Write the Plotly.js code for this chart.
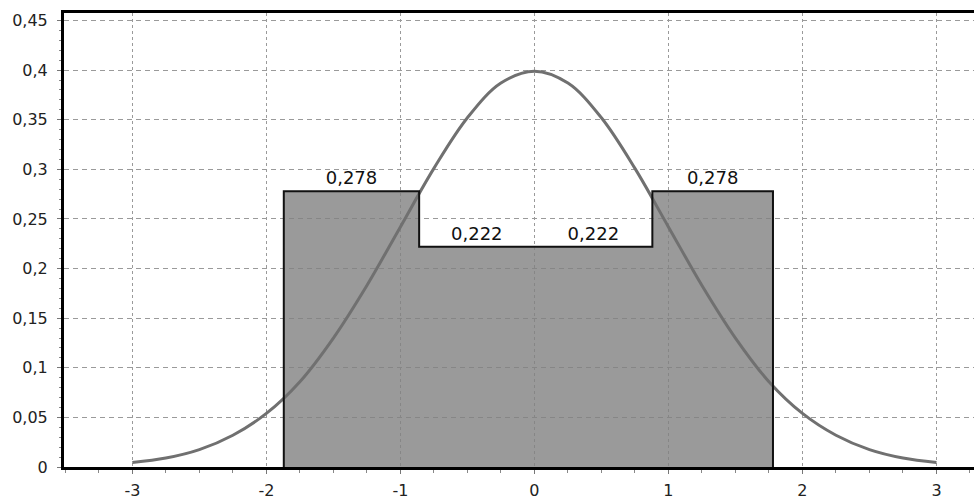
<!DOCTYPE html>
<html>
<head>
<meta charset="utf-8">
<script src="https://cdn.plot.ly/plotly-3.0.1.min.js"></script>
<style>html,body{margin:0;padding:0;background:#fff;}#chart{width:974px;height:500px;}</style>
</head>
<body>
<div id="chart"></div>
<script>
// Histogram bins (edges) and heights
var binEdges = [-1.87, -0.86, 0, 0.88, 1.78];
var binHeights = [0.278, 0.222, 0.222, 0.278];
// Density curve points
var curveX = [-3, -2.75, -2.5, -2.25, -2, -1.75, -1.5, -1.25, -1, -0.75, -0.5, -0.25, 0,
              0.25, 0.5, 0.75, 1, 1.25, 1.5, 1.75, 2, 2.25, 2.5, 2.75, 3];
var curveY = [0.0045, 0.009, 0.0175, 0.032, 0.054, 0.086, 0.13, 0.183, 0.242, 0.301, 0.352, 0.387, 0.399,
              0.387, 0.352, 0.301, 0.242, 0.183, 0.13, 0.086, 0.054, 0.032, 0.0175, 0.009, 0.0045];
var xTicks = [-3, -2, -1, 0, 1, 2, 3];

var centers = [], widths = [];
for (var i = 0; i < binHeights.length; i++) {
  centers.push((binEdges[i] + binEdges[i + 1]) / 2);
  widths.push(binEdges[i + 1] - binEdges[i]);
}
var outlineX = binEdges.concat([binEdges[binEdges.length - 1]]);
var outlineY = [0].concat(binHeights, [0]);

var curve = {
  type: 'scatter', mode: 'lines', x: curveX, y: curveY,
  line: {shape: 'spline', color: '#707070', width: 3}, hoverinfo: 'skip'
};
var bars = {
  type: 'bar', x: centers, y: binHeights, width: widths,
  marker: {color: 'rgba(129,129,129,0.8)', line: {width: 0}},
  text: binHeights, texttemplate: '%{y:.3f}', textposition: 'outside',
  textfont: {family: 'DejaVu Sans', size: 18, color: '#111'},
  cliponaxis: false, hoverinfo: 'skip'
};
var outline = {
  type: 'scatter', mode: 'lines', x: outlineX, y: outlineY,
  line: {shape: 'vh', color: '#111', width: 2}, hoverinfo: 'skip'
};

var layout = {
  width: 974, height: 500,
  margin: {l: 64, r: 0, t: 13, b: 33},
  paper_bgcolor: '#fff', plot_bgcolor: '#fff',
  separators: ', ',
  showlegend: false,
  bargap: 0,
  font: {family: 'DejaVu Sans', size: 16, color: '#222'},
  xaxis: {
    range: [-3.51, 3.28], tickvals: xTicks, ticktext: xTicks.map(String),
    showgrid: true, gridcolor: '#9a9a9a', gridwidth: 1, griddash: '3px,3px',
    zeroline: false, showline: true, linecolor: '#000', linewidth: 3, mirror: true,
    ticks: 'outside', ticklen: 4, tickcolor: '#777', ticklabelstandoff: 3,
    minor: {dtick: 0.25, ticks: 'outside', ticklen: 3, tickcolor: '#888', showgrid: false},
    tickfont: {family: 'DejaVu Sans', size: 16, color: '#222'}
  },
  yaxis: {
    range: [0, 0.4576], dtick: 0.05, tick0: 0,
    showgrid: true, gridcolor: '#9a9a9a', gridwidth: 1, griddash: '5px,4px',
    zeroline: false, showline: true, linecolor: '#000', linewidth: 3,
    ticks: 'outside', ticklen: 4, tickcolor: '#777', ticklabelstandoff: 6,
    minor: {dtick: 0.01, ticks: 'outside', ticklen: 2, tickcolor: '#888', showgrid: false},
    tickfont: {family: 'DejaVu Sans', size: 16, color: '#222'}
  }
};

Plotly.newPlot('chart', [curve, bars, outline], layout, {displayModeBar: false, staticPlot: true});
</script>
</body>
</html>
